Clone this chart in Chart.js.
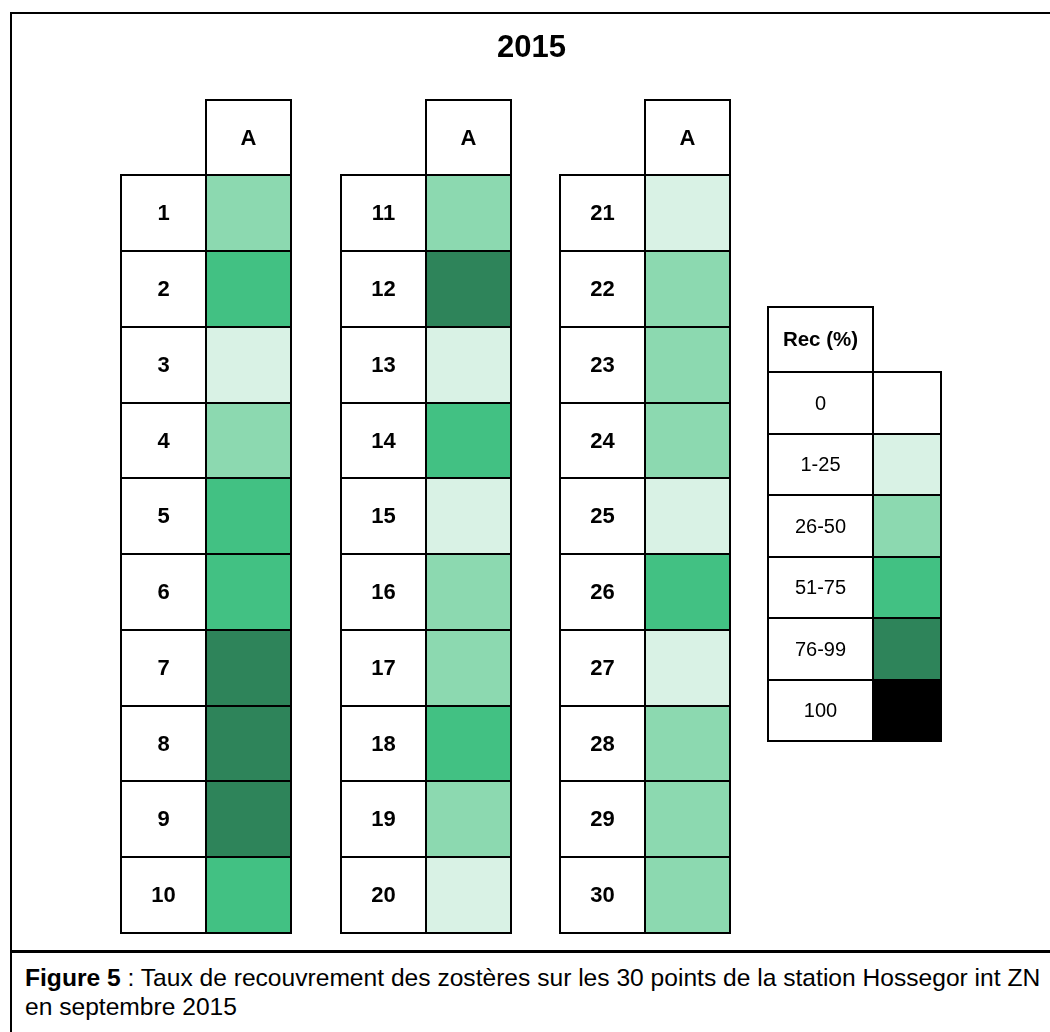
<!DOCTYPE html>
<html>
<head>
<meta charset="utf-8">
<script src="https://cdn.jsdelivr.net/npm/chart.js@4/dist/chart.umd.min.js"></script>
<style>
  html, body { margin: 0; padding: 0; background: #ffffff; }
  body { width: 1050px; height: 1032px; position: relative; overflow: hidden; font-family: "Liberation Sans", Arial, sans-serif; }
  #frame { position: absolute; left: 10px; top: 12px; width: 1060px; height: 1060px; border-left: 2px solid #000; border-top: 2px solid #000; box-sizing: border-box; }
  #sep { position: absolute; left: 10px; top: 950px; width: 1060px; height: 0; border-top: 3px solid #000; }
  #chartWrap { position: absolute; left: 0; top: 0; width: 1050px; height: 950px; }
  #caption { position: absolute; left: 25px; top: 963px; width: 1030px; font-size: 24.6px; line-height: 29px; color: #000; white-space: nowrap; }
</style>
</head>
<body>
<div id="frame"></div>
<div id="sep"></div>
<div id="chartWrap"><canvas id="c" width="1050" height="950"></canvas></div>
<div id="caption"><b>Figure 5</b> : Taux de recouvrement des zostères sur les 30 points de la station Hossegor int ZN<br>en septembre 2015</div>
<script>
// ---------- data ----------
const chartTitle = '2015';
const columnHeader = 'A';
const pointsGroup1 = ['1','2','3','4','5','6','7','8','9','10'];
const pointsGroup2 = ['11','12','13','14','15','16','17','18','19','20'];
const pointsGroup3 = ['21','22','23','24','25','26','27','28','29','30'];
const coverGroup1 = ['26-50','51-75','1-25','26-50','51-75','51-75','76-99','76-99','76-99','51-75'];
const coverGroup2 = ['26-50','76-99','1-25','51-75','1-25','26-50','26-50','51-75','26-50','1-25'];
const coverGroup3 = ['1-25','26-50','26-50','26-50','1-25','51-75','1-25','26-50','26-50','26-50'];
const legendTitle = 'Rec (%)';
const legendClasses = ['0','1-25','26-50','51-75','76-99','100'];
const legendColors = ['#ffffff','#d9f2e5','#8cd9b0','#42c183','#2e845a','#000000'];

// ---------- layout (grid units) ----------
const GROUP_STEP = 2.585;        // column-units between groups
const LEG_X0 = 7.612, LEG_LABEL_W = 1.235, LEG_COLOR_W = 0.80;
const LEG_Y0 = 2.744, LEG_HEAD_H = 0.858, LEG_ROW_H = 0.8113;
const PAD_LEFT = 13;

const colorOf = {};
legendClasses.forEach((c, i) => colorOf[c] = legendColors[i]);

// Build cell list from the arrays
const cells = [];
const groups = [[pointsGroup1, coverGroup1], [pointsGroup2, coverGroup2], [pointsGroup3, coverGroup3]];
groups.forEach(([pts, cov], g) => {
  const x0 = g * GROUP_STEP;
  cells.push({x0: x0 + 1, x1: x0 + 2, y0: 0, y1: 1, fill: '#ffffff', text: columnHeader, bold: true, size: 22});
  pts.forEach((p, i) => {
    cells.push({x0: x0, x1: x0 + 1, y0: i + 1, y1: i + 2, fill: '#ffffff', text: p, bold: true, size: 22});
    cells.push({x0: x0 + 1, x1: x0 + 2, y0: i + 1, y1: i + 2, fill: colorOf[cov[i]], text: ''});
  });
});
cells.push({x0: LEG_X0, x1: LEG_X0 + LEG_LABEL_W, y0: LEG_Y0, y1: LEG_Y0 + LEG_HEAD_H, fill: '#ffffff', text: legendTitle, bold: true, size: 20.5});
legendClasses.forEach((c, i) => {
  const y0 = LEG_Y0 + LEG_HEAD_H + i * LEG_ROW_H;
  cells.push({x0: LEG_X0, x1: LEG_X0 + LEG_LABEL_W, y0: y0, y1: y0 + LEG_ROW_H, fill: '#ffffff', text: c, bold: false, size: 20});
  cells.push({x0: LEG_X0 + LEG_LABEL_W, x1: LEG_X0 + LEG_LABEL_W + LEG_COLOR_W, y0: y0, y1: y0 + LEG_ROW_H, fill: legendColors[i], text: ''});
});

const cellPlugin = {
  id: 'cellPlugin',
  afterDatasetsDraw(chart) {
    const ctx = chart.ctx, xs = chart.scales.x, ys = chart.scales.y;
    ctx.save();
    const rects = cells.map(c => {
      const l = xs.getPixelForValue(c.x0), r = xs.getPixelForValue(c.x1);
      const t = ys.getPixelForValue(c.y0), b = ys.getPixelForValue(c.y1);
      return {c, l: Math.round(l), r: Math.round(r), t: Math.round(t), b: Math.round(b)};
    });
    rects.forEach(({c, l, r, t, b}) => {
      ctx.fillStyle = c.fill;
      ctx.fillRect(l, t, r - l, b - t);
    });
    ctx.strokeStyle = '#000000';
    ctx.lineWidth = 2;
    rects.forEach(({l, r, t, b}) => {
      ctx.strokeRect(l, t, r - l, b - t);
    });
    ctx.fillStyle = '#000000';
    ctx.textAlign = 'center';
    ctx.textBaseline = 'middle';
    rects.forEach(({c, l, r, t, b}) => {
      if (!c.text) return;
      ctx.font = (c.bold ? 'bold ' : '') + c.size + 'px "Liberation Sans", Arial, sans-serif';
      ctx.fillText(c.text, (l + r) / 2, (t + b) / 2 + 1);
    });
    ctx.restore();
  }
};

// x: page = 121 + 85u ; y: page = 99 + 75.8v ; chart area spans PAD_LEFT..1050 x 76..950
new Chart(document.getElementById('c'), {
  type: 'scatter',
  data: { datasets: [] },
  options: {
    responsive: false,
    animation: false,
    devicePixelRatio: 1,
    layout: { padding: { left: PAD_LEFT, right: 0, top: 0, bottom: 0 } },
    scales: {
      x: { type: 'linear', display: false, min: (PAD_LEFT - 121) / 85, max: (1050 - 121) / 85 },
      y: { type: 'linear', display: false, reverse: true, min: (76 - 99) / 75.8, max: (950 - 99) / 75.8 }
    },
    plugins: {
      legend: { display: false },
      tooltip: { enabled: false },
      title: {
        display: true,
        text: chartTitle,
        color: '#000000',
        font: { family: '"Liberation Sans", Arial, sans-serif', size: 31, weight: 'bold', lineHeight: 1.2 },
        padding: { top: 29.4, bottom: 10 }
      }
    }
  },
  plugins: [cellPlugin]
});
</script>
</body>
</html>
